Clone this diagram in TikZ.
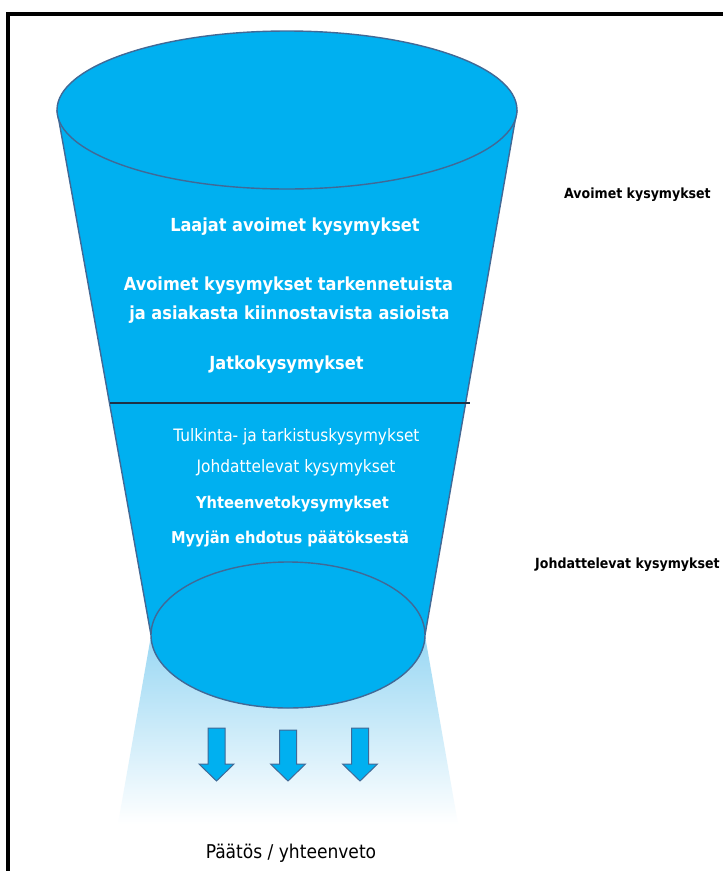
\documentclass[tikz,border=0pt]{standalone}
\usepackage{fontspec}
\setmainfont{DejaVu Sans Condensed}
\definecolor{funnel}{RGB}{0,176,240}
\definecolor{edge}{RGB}{65,105,150}
\definecolor{beam}{RGB}{150,214,243}
\definecolor{divline}{RGB}{30,50,70}
\begin{document}
\begin{tikzpicture}[x=1pt,y=-1pt,
  rim/.style={draw=edge, line width=1.4pt, fill=funnel},
  side/.style={draw=edge, line width=1.4pt},
  blockarrow/.style={draw=edge, line width=1pt, fill=funnel},
  bigtext/.style={text=white, font=\bfseries\fontsize{18}{21}\selectfont, anchor=base, inner sep=0pt},
  smalltext/.style={text=white, font=\fontsize{17.1}{19}\selectfont, anchor=base, inner sep=0pt},
  midtext/.style={text=white, font=\bfseries\fontsize{16.3}{19}\selectfont, anchor=base, inner sep=0pt},
  sidelabel/.style={text=black, font=\bfseries\fontsize{14}{16}\selectfont, anchor=base, inner sep=0pt},
  bottomlabel/.style={text=black, font=\fontsize{19}{21}\selectfont, anchor=base, inner sep=0pt}
]
\useasboundingbox (0,0) rectangle (723,871);
\clip (0,0) rectangle (723,871);
\fill[white] (0,0) rectangle (723,871);
% frame
\draw[line width=4pt] (8,14) rectangle (760,900);
% light beam below the funnel
\shade[top color=beam, bottom color=white] (152,630) -- (424,630) -- (458,824) -- (118,824) -- cycle;
% funnel body
\coordinate (tl) at (57,110);
\coordinate (tr) at (517,110);
\coordinate (bl) at (151,635);
\coordinate (br) at (425,635);
\fill[funnel] (tl) -- (bl) -- (br) -- (tr) -- cycle;
\draw[side] (tl) -- (bl);
\draw[side] (tr) -- (br);
% divider
\coordinate (dl) at (110,403);
\coordinate (dr) at (470,403);
\draw[divline, line width=1.2pt] (dl) -- (dr);
% ellipses
\draw[rim] (287,110) ellipse [x radius=230pt, y radius=79pt];
\draw[rim] (288,635) ellipse [x radius=137pt, y radius=73pt];
% arrows
\foreach \cx/\ty in {216.5/728, 288/730, 360/728}{
  \draw[blockarrow] (\cx-8.5,\ty) -- (\cx+8.5,\ty) -- (\cx+8.5,764) -- (\cx+17.5,764)
     -- (\cx,781) -- (\cx-17.5,764) -- (\cx-8.5,764) -- cycle;
}
% texts inside the funnel
\node[bigtext] (t1) at (295,231.7) {Laajat avoimet kysymykset};
\node[bigtext] (t2) at (288.5,290.7) {Avoimet kysymykset tarkennetuista};
\node[bigtext] (t3) at (289.5,319.3) {ja asiakasta kiinnostavista asioista};
\node[bigtext] (t4) at (286.5,369) {Jatkokysymykset};
\node[smalltext] (t5) at (296.5,441.7) {Tulkinta- ja tarkistuskysymykset};
\node[smalltext] (t6) at (296,472.3) {Johdattelevat kysymykset};
\node[midtext] (t7) at (292.5,508.3) {Yhteenvetokysymykset};
\node[midtext] (t8) at (290,543.3) {Myyjän ehdotus päätöksestä};
% side labels
\node[sidelabel] (s1) at (637.5,198.3) {Avoimet kysymykset};
\node[sidelabel, anchor=base west] (s2) at (535,568.3) {Johdattelevat kysymykset};
% bottom label
\node[bottomlabel] (b1) at (291,858) {Päätös / yhteenveto};
\end{tikzpicture}
\end{document}
